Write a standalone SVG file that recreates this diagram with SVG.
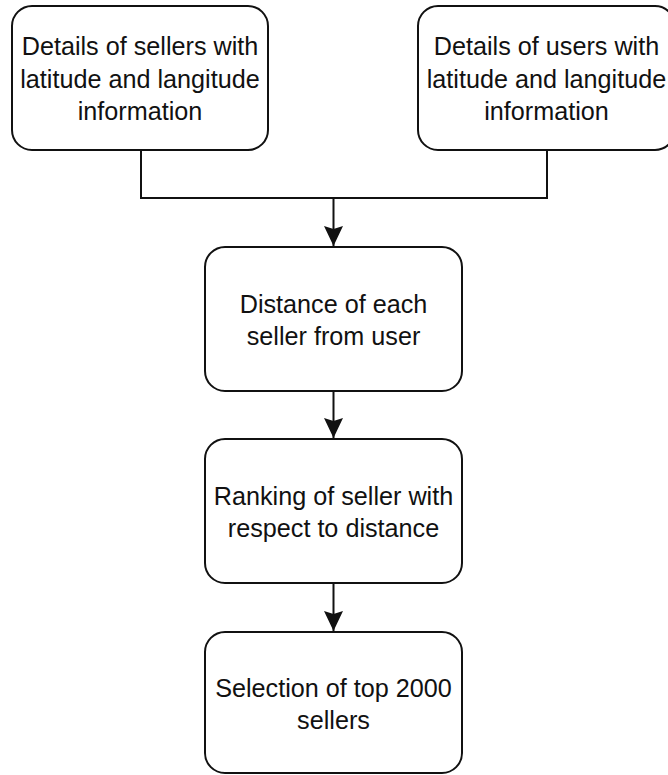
<svg xmlns="http://www.w3.org/2000/svg" width="668" height="775" viewBox="0 0 668 775">
<style>
.box{fill:#fff;stroke:#111;stroke-width:2}
.lbl{font-family:"Liberation Sans",Arial,sans-serif;font-size:25.2px;fill:#111;text-anchor:middle}
.conn{fill:none;stroke:#111;stroke-width:2}
</style>
<defs>
<marker id="arr" markerUnits="userSpaceOnUse" markerWidth="22" markerHeight="20" refX="20" refY="9.5" orient="auto">
<path d="M0,0 L20,9.5 L0,19 L3,9.5 z" fill="#111"/>
</marker>
</defs>
<rect width="668" height="775" fill="#fff"/>
<g id="connectors">
<path class="conn" d="M141,150 V198 H547 V150"/>
<path class="conn" d="M333.5,198 V246" marker-end="url(#arr)"/>
<path class="conn" d="M333.5,391 V438" marker-end="url(#arr)"/>
<path class="conn" d="M333.5,583 V631" marker-end="url(#arr)"/>
</g>
<g id="sellers">
<rect class="box" x="12" y="6" width="256" height="144" rx="20"/>
<text class="lbl" x="140" y="55">Details of sellers with</text>
<text class="lbl" x="140" y="87.5">latitude and langitude</text>
<text class="lbl" x="140" y="120">information</text>
</g>
<g id="users">
<rect class="box" x="418" y="6" width="257" height="144" rx="20"/>
<text class="lbl" x="546.5" y="55">Details of users with</text>
<text class="lbl" x="546.5" y="87.5">latitude and langitude</text>
<text class="lbl" x="546.5" y="120">information</text>
</g>
<g id="distance">
<rect class="box" x="205" y="247" width="257" height="144" rx="20"/>
<text class="lbl" x="333.5" y="313">Distance of each</text>
<text class="lbl" x="333.5" y="345">seller from user</text>
</g>
<g id="ranking">
<rect class="box" x="205" y="439" width="257" height="144" rx="20"/>
<text class="lbl" x="333.5" y="505">Ranking of seller with</text>
<text class="lbl" x="333.5" y="537">respect to distance</text>
</g>
<g id="selection">
<rect class="box" x="205" y="632" width="257" height="141" rx="20"/>
<text class="lbl" x="333.5" y="697">Selection of top 2000</text>
<text class="lbl" x="333.5" y="729">sellers</text>
</g>
</svg>
